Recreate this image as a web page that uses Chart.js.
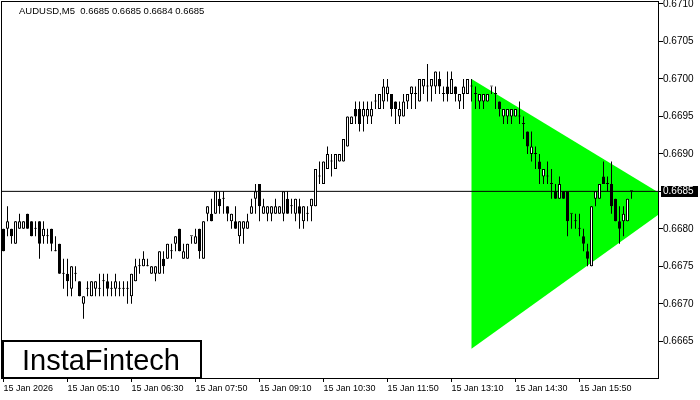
<!DOCTYPE html>
<html>
<head>
<meta charset="utf-8">
<script src="https://cdn.jsdelivr.net/npm/chart.js@4"></script>
<style>
  html, body { margin: 0; padding: 0; background: #fff; }
  #wrap { width: 700px; height: 400px; }
</style>
</head>
<body>
<div id="wrap"><canvas id="chart" width="700" height="400"></canvas></div>
<script>
// AUDUSD M5 candles (one per bar, left to right)
const opens = [
  0.6680,0.6680,0.6680,0.6678,0.6680,0.6680,0.6682,0.6681,0.6680,0.6681,
  0.6679,0.6679,0.6680,0.6677,0.6678,0.6674,0.6674,0.6672,0.6674,0.6673,
  0.6670,0.6672,0.6671,0.6672,0.6672,0.6673,0.6673,0.6672,0.6672,0.6672,
  0.6672,0.6672,0.6671,0.6673,0.6675,0.6675,0.6675,0.6674,0.6674,0.6674,
  0.6676,0.6676,0.6677,0.6678,0.6680,0.6676,0.6676,0.6679,0.6678,0.6680,
  0.6676,0.6682,0.6682,0.6682,0.6684,0.6684,0.6683,0.6681,0.6681,0.6679,
  0.6680,0.6680,0.6682,0.6684,0.6686,0.6682,0.6682,0.6682,0.6682,0.6682,
  0.6682,0.6684,0.6683,0.6682,0.6683,0.6681,0.6682,0.6683,0.6683,0.6687,
  0.6686,0.6688,0.6689,0.6688,0.6689,0.6689,0.6691,0.6694,0.6696,0.6696,
  0.6695,0.6695,0.6695,0.6697,0.6696,0.6697,0.6698,0.6698,0.6697,0.6695,
  0.6695,0.6697,0.6698,0.6698,0.6697,0.6699,0.6699,0.6699,0.6699,0.6700,
  0.6698,0.6699,0.6698,0.6699,0.6697,0.6698,0.6698,0.6699,0.6698,0.6697,
  0.6697,0.6697,0.6699,0.6698,0.6697,0.6695,0.6695,0.6695,0.6695,0.6695,
  0.6694,0.6693,0.6690,0.6690,0.6689,0.6687,0.6687,0.6686,0.6685,0.6684,
  0.6685,0.6685,0.6682,0.6681,0.6680,0.6679,0.6677,0.6675,0.6684,0.6684,
  0.6687,0.6686,0.6686,0.6684,0.6681,0.6681,0.6681,0.6685
];
const highs = [
  0.6680,0.6683,0.6680,0.6681,0.6682,0.6681,0.6682,0.6681,0.6681,0.6681,
  0.6681,0.6680,0.6680,0.6679,0.6678,0.6676,0.6676,0.6675,0.6675,0.6673,
  0.6671,0.6673,0.6673,0.6673,0.6674,0.6674,0.6674,0.6673,0.6674,0.6673,
  0.6673,0.6673,0.6674,0.6676,0.6676,0.6677,0.6676,0.6675,0.6675,0.6677,
  0.6677,0.6678,0.6678,0.6679,0.6680,0.6678,0.6678,0.6679,0.6680,0.6680,
  0.6681,0.6683,0.6684,0.6685,0.6685,0.6685,0.6683,0.6682,0.6683,0.6681,
  0.6681,0.6682,0.6684,0.6686,0.6686,0.6684,0.6683,0.6683,0.6684,0.6683,
  0.6685,0.6685,0.6684,0.6684,0.6684,0.6683,0.6683,0.6684,0.6688,0.6689,
  0.6689,0.6691,0.6690,0.6690,0.6690,0.6692,0.6695,0.6695,0.6697,0.6697,
  0.6697,0.6697,0.6697,0.6698,0.6698,0.6700,0.6700,0.6698,0.6697,0.6697,
  0.6698,0.6698,0.6699,0.6699,0.6700,0.6700,0.6702,0.6700,0.6701,0.6701,
  0.6699,0.6701,0.6701,0.6699,0.6698,0.6700,0.6700,0.6700,0.6699,0.6698,
  0.6698,0.6698,0.6699,0.6699,0.6697,0.6696,0.6696,0.6696,0.6696,0.6697,
  0.6695,0.6693,0.6693,0.6691,0.6690,0.6688,0.6689,0.6688,0.6686,0.6687,
  0.6685,0.6685,0.6682,0.6682,0.6682,0.6680,0.6678,0.6683,0.6685,0.6686,
  0.6689,0.6687,0.6689,0.6684,0.6683,0.6683,0.6684,0.6685
];
const lows = [
  0.6677,0.6679,0.6678,0.6678,0.6680,0.6680,0.6680,0.6679,0.6679,0.6676,
  0.6678,0.6678,0.6677,0.6677,0.6674,0.6672,0.6671,0.6671,0.6673,0.6671,
  0.6668,0.6671,0.6671,0.6671,0.6671,0.6671,0.6671,0.6671,0.6671,0.6671,
  0.6671,0.6670,0.6670,0.6673,0.6674,0.6675,0.6675,0.6674,0.6673,0.6674,
  0.6674,0.6676,0.6676,0.6677,0.6677,0.6676,0.6676,0.6678,0.6678,0.6676,
  0.6676,0.6681,0.6681,0.6682,0.6682,0.6682,0.6681,0.6680,0.6680,0.6678,
  0.6678,0.6680,0.6682,0.6682,0.6681,0.6682,0.6681,0.6681,0.6682,0.6682,
  0.6681,0.6682,0.6682,0.6681,0.6680,0.6680,0.6681,0.6681,0.6683,0.6686,
  0.6686,0.6688,0.6687,0.6688,0.6689,0.6689,0.6691,0.6694,0.6694,0.6693,
  0.6693,0.6694,0.6694,0.6696,0.6696,0.6696,0.6697,0.6695,0.6694,0.6694,
  0.6695,0.6696,0.6696,0.6696,0.6697,0.6698,0.6697,0.6697,0.6698,0.6698,
  0.6697,0.6697,0.6698,0.6697,0.6696,0.6696,0.6698,0.6697,0.6696,0.6696,
  0.6696,0.6697,0.6698,0.6696,0.6695,0.6694,0.6694,0.6694,0.6695,0.6694,
  0.6692,0.6690,0.6689,0.6688,0.6686,0.6686,0.6686,0.6684,0.6684,0.6684,
  0.6684,0.6679,0.6680,0.6680,0.6679,0.6677,0.6675,0.6675,0.6683,0.6684,
  0.6686,0.6685,0.6682,0.6681,0.6678,0.6679,0.6681,0.6684
];
const closes = [
  0.6677,0.6681,0.6679,0.6681,0.6681,0.6681,0.6680,0.6679,0.6680,0.6678,
  0.6680,0.6679,0.6678,0.6677,0.6674,0.6674,0.6673,0.6675,0.6674,0.6671,
  0.6671,0.6672,0.6673,0.6673,0.6672,0.6673,0.6672,0.6672,0.6673,0.6672,
  0.6672,0.6672,0.6674,0.6675,0.6675,0.6676,0.6675,0.6675,0.6675,0.6677,
  0.6675,0.6678,0.6677,0.6679,0.6677,0.6677,0.6678,0.6679,0.6679,0.6677,
  0.6681,0.6683,0.6681,0.6685,0.6683,0.6684,0.6682,0.6682,0.6680,0.6681,
  0.6681,0.6681,0.6683,0.6685,0.6683,0.6683,0.6683,0.6683,0.6683,0.6683,
  0.6685,0.6682,0.6683,0.6684,0.6682,0.6683,0.6682,0.6684,0.6688,0.6687,
  0.6689,0.6690,0.6689,0.6690,0.6690,0.6692,0.6695,0.6695,0.6695,0.6694,
  0.6696,0.6696,0.6696,0.6697,0.6698,0.6699,0.6699,0.6696,0.6696,0.6696,
  0.6697,0.6698,0.6699,0.6698,0.6700,0.6700,0.6699,0.6700,0.6701,0.6699,
  0.6698,0.6698,0.6700,0.6698,0.6698,0.6699,0.6700,0.6699,0.6698,0.6698,
  0.6698,0.6698,0.6699,0.6698,0.6696,0.6696,0.6696,0.6696,0.6696,0.6695,
  0.6694,0.6691,0.6691,0.6690,0.6688,0.6688,0.6687,0.6686,0.6684,0.6686,
  0.6684,0.6681,0.6682,0.6681,0.6680,0.6678,0.6676,0.6683,0.6685,0.6686,
  0.6686,0.6686,0.6683,0.6681,0.6680,0.6682,0.6684,0.6685
];

// time axis: bar index of each label
const timeTicks = [0, 16, 32, 48, 64, 80, 96, 112, 128, 144];
const timeLabels = ['15 Jan 2026', '15 Jan 05:10', '15 Jan 06:30', '15 Jan 07:50', '15 Jan 09:10',
                    '15 Jan 10:30', '15 Jan 11:50', '15 Jan 13:10', '15 Jan 14:30', '15 Jan 15:50'];
const priceTicks = [0.6665, 0.6670, 0.6675, 0.6680, 0.6685, 0.6690, 0.6695, 0.6700, 0.6705, 0.6710];

// symmetric triangle pattern (bar index, price)
const triX = [117, 167.9, 117, 117];
const triY = [0.6700, 0.66835, 0.6664, 0.6700];

const lastPrice = 0.6685;
const header = 'AUDUSD,M5  0.6685 0.6685 0.6684 0.6685';

// build datasets
const bodies = opens.map((o, i) => ({ x: i, y: [Math.min(o, closes[i]), Math.max(o, closes[i])] }));
const wicks = highs.map((h, i) => ({ x: i, y: [lows[i], h] }));
const bodyColors = opens.map((o, i) => closes[i] > o ? '#ffffff' : '#000000');
const triangle = triX.map((x, i) => ({ x: x, y: triY[i] }));

const decor = {
  id: 'decor',
  afterDatasetsDraw(chart) {
    const { ctx, chartArea: a } = chart;
    ctx.save();
    ctx.strokeStyle = '#000';
    ctx.lineWidth = 1;
    ctx.strokeRect(a.left + 0.5, a.top + 0.5, a.right - a.left - 1, a.bottom - a.top);
    ctx.restore();
  },
  afterDraw(chart) {
    const { ctx, scales } = chart;
    ctx.save();
    // header
    ctx.fillStyle = '#000';
    ctx.font = '9.5px "Liberation Sans"';
    ctx.textBaseline = 'alphabetic';
    ctx.fillText(header, 19, 14);

    // current price box
    const py = Math.round(scales.y.getPixelForValue(lastPrice));
    ctx.fillStyle = '#000';
    ctx.fillRect(661, py - 5, 37, 11);
    ctx.fillStyle = '#fff';
    ctx.font = '10px "Liberation Sans"';
    ctx.textBaseline = 'middle';
    ctx.fillText(lastPrice.toFixed(4), 663, py + 0.5);

    // logo
    ctx.fillStyle = '#fff';
    ctx.fillRect(2, 340, 199, 38);
    ctx.strokeStyle = '#000';
    ctx.lineWidth = 2;
    ctx.strokeRect(3, 341, 198, 37);
    ctx.fillStyle = '#000';
    ctx.font = '29px "Liberation Sans"';
    ctx.textBaseline = 'alphabetic';
    ctx.fillText('InstaFintech', 22, 370);
    ctx.restore();
  }
};

new Chart(document.getElementById('chart'), {
  type: 'bar',
  data: {
    datasets: [
      {
        data: bodies,
        backgroundColor: bodyColors,
        borderColor: '#000',
        borderWidth: 1,
        borderSkipped: false,
        barThickness: 3,
        minBarLength: 1,
        grouped: false,
        inflateAmount: 0
      },
      {
        data: wicks,
        backgroundColor: '#000',
        borderWidth: 0,
        barThickness: 1,
        grouped: false,
        inflateAmount: 0
      },
      {
        type: 'line',
        data: [{ x: -1, y: lastPrice }, { x: 170, y: lastPrice }],
        borderColor: '#000',
        borderWidth: 1,
        pointRadius: 0,
        fill: false
      },
      {
        type: 'line',
        data: triangle,
        borderColor: 'rgba(0,0,0,0)',
        backgroundColor: '#00ff00',
        borderWidth: 1,
        pointRadius: 0,
        tension: 0,
        fill: 'shape'
      }
    ]
  },
  options: {
    responsive: false,
    animation: false,
    devicePixelRatio: 1,
    layout: { padding: { left: 1, top: 1, right: 0, bottom: 0 } },
    plugins: { legend: { display: false }, tooltip: { enabled: false } },
    scales: {
      x: {
        type: 'linear',
        min: -0.625,
        max: 163.875,
        offset: false,
        grid: { display: true, offset: false, drawOnChartArea: false, drawTicks: true, tickLength: 4, color: '#000' },
        border: { display: false },
        afterBuildTicks: s => { s.ticks = timeTicks.map(v => ({ value: v })); },
        afterFit: s => { s.height = 22; s.paddingLeft = 0; s.paddingRight = 0; },
        ticks: {
          autoSkip: false,
          maxRotation: 0,
          align: 'start',
          padding: 1,
          color: '#000',
          font: { family: 'Liberation Sans', size: 9 },
          callback: (v, i) => timeLabels[i]
        }
      },
      y: {
        position: 'right',
        min: 0.66601,
        max: 0.67104,
        grid: { display: true, drawOnChartArea: false, drawTicks: true, tickLength: 4, color: '#000' },
        border: { display: false },
        afterBuildTicks: s => { s.ticks = priceTicks.map(v => ({ value: v })); },
        afterFit: s => { s.width = 41; s.paddingTop = 0; s.paddingBottom = 0; },
        ticks: {
          padding: 0,
          color: '#000',
          font: { family: 'Liberation Sans', size: 10 },
          callback: v => v.toFixed(4)
        }
      }
    }
  },
  plugins: [decor]
});
</script>
</body>
</html>
